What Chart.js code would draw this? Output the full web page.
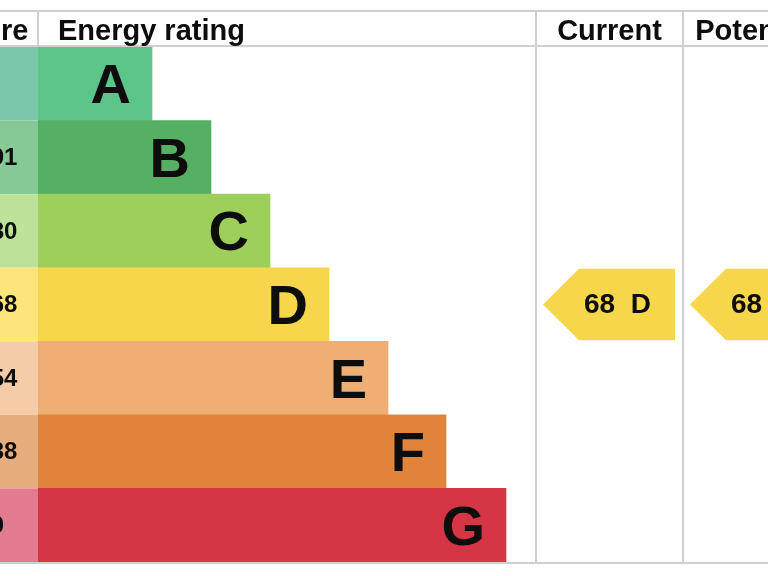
<!DOCTYPE html>
<html>
<head>
<meta charset="utf-8">
<script src="https://cdn.jsdelivr.net/npm/chart.js@4.4.1/dist/chart.umd.min.js"></script>
<style>
  html, body { margin: 0; padding: 0; background: #fff; overflow: hidden; width: 768px; height: 576px; }
  #wrap { position: absolute; left: -62px; top: 0; width: 900px; height: 576px; }
</style>
</head>
<body>
<div id="wrap"><canvas id="epc" width="900" height="576"></canvas></div>
<script>
// rating bands, top to bottom
const ratingBands = ['A', 'B', 'C', 'D', 'E', 'F', 'G'];
const scoreRanges = ['92+', '81-91', '69-80', '55-68', '39-54', '21-38', '1-20'];
const bandMinScore = [92, 81, 69, 55, 39, 21, 1];
// bar lengths (chart units)
const barLengths = [114, 173, 232, 291, 350, 408, 468];
const barColours = ['#5bc58a', '#55b064', '#9dcf5a', '#f6d64a', '#efae74', '#e0843c', '#d63545'];
const scoreColours = ['#7cc8ad', '#86c896', '#bde39a', '#fde57a', '#f6cba7', '#e8ad7c', '#e37a8f'];
const currentScore = [68];
const potentialScore = [68];

const FONT = "'Liberation Sans', Arial, Helvetica, sans-serif";
const COL_W = 147;       // width of current / potential columns
const GRID = '#cfcfcf';

const bandFor = (score) => ratingBands[bandMinScore.findIndex(m => score >= m)];

const epcTable = {
    id: 'epcTable',
    beforeDatasetsDraw(chart) {
        const { ctx, chartArea: a, scales: { y } } = chart;
        const step = (a.bottom - a.top) / ratingBands.length;
        ctx.save();
        ratingBands.forEach((band, i) => {
            const cy = y.getPixelForValue(i);
            ctx.fillStyle = scoreColours[i];
            ctx.fillRect(0, cy - step / 2, a.left, step);
            ctx.fillStyle = '#0d0d0d';
            ctx.font = 'bold 24px ' + FONT;
            ctx.textAlign = 'left';
            ctx.textBaseline = 'middle';
            ctx.fillText(scoreRanges[i], 18, cy + 1);
        });
        ctx.restore();
    },
    afterDatasetsDraw(chart) {
        const { ctx, chartArea: a, scales: { y } } = chart;
        const step = (a.bottom - a.top) / ratingBands.length;
        const meta = chart.getDatasetMeta(0);
        ctx.save();

        // band letters inside bars
        ctx.fillStyle = '#0d0d0d';
        ctx.font = 'bold 56px ' + FONT;
        ctx.textAlign = 'right';
        ctx.textBaseline = 'middle';
        meta.data.forEach((bar, i) => {
            ctx.fillText(ratingBands[i], bar.x - 21, bar.y + 4);
        });

        // grid lines
        const headTop = 11;
        const headBottom = a.top - 1;
        const c1 = a.right, c2 = a.right + COL_W, c3 = a.right + 2 * COL_W;
        ctx.strokeStyle = GRID;
        ctx.lineWidth = 2;
        ctx.beginPath();
        ctx.moveTo(0, headTop); ctx.lineTo(c3, headTop);
        ctx.moveTo(0, headBottom); ctx.lineTo(c3, headBottom);
        ctx.moveTo(0, a.bottom + 1); ctx.lineTo(c3, a.bottom + 1);
        ctx.moveTo(a.left, headTop); ctx.lineTo(a.left, headBottom);
        ctx.moveTo(c1, headTop); ctx.lineTo(c1, a.bottom + 1);
        ctx.moveTo(c2, headTop); ctx.lineTo(c2, a.bottom + 1);
        ctx.stroke();

        // headers
        ctx.fillStyle = '#0d0d0d';
        ctx.font = 'bold 29px ' + FONT;
        ctx.textBaseline = 'alphabetic';
        ctx.textAlign = 'center';
        ctx.fillText('Score', a.left / 2, 40);
        ctx.fillText('Current', (c1 + c2) / 2, 40);
        ctx.fillText('Potential', (c2 + c3) / 2, 40);
        ctx.textAlign = 'left';
        ctx.fillText('Energy rating', a.left + 20, 40);

        // current / potential arrows
        const arrow = (left, right, score) => {
            const band = bandFor(score);
            const cy = y.getPixelForValue(ratingBands.indexOf(band));
            const h = step / 2 - 1;
            const tip = left + 7, end = right - 8;
            ctx.fillStyle = barColours[ratingBands.indexOf(band)];
            ctx.beginPath();
            ctx.moveTo(tip, cy);
            ctx.lineTo(tip + 36, cy - h);
            ctx.lineTo(end, cy - h);
            ctx.lineTo(end, cy + h);
            ctx.lineTo(tip + 36, cy + h);
            ctx.closePath();
            ctx.fill();
            ctx.fillStyle = '#0d0d0d';
            ctx.font = 'bold 28px ' + FONT;
            ctx.textAlign = 'left';
            ctx.textBaseline = 'middle';
            ctx.fillText(score + '  ' + band, tip + 41, cy + 1);
        };
        arrow(c1, c2, currentScore[0]);
        arrow(c2, c3, potentialScore[0]);

        ctx.restore();
    }
};

new Chart(document.getElementById('epc'), {
    type: 'bar',
    data: {
        labels: ratingBands,
        datasets: [{
            data: barLengths,
            backgroundColor: barColours,
            borderWidth: 0,
            barPercentage: 1,
            categoryPercentage: 1
        }]
    },
    options: {
        indexAxis: 'y',
        responsive: false,
        animation: false,
        devicePixelRatio: 1,
        layout: { padding: { left: 100, right: 302, top: 47, bottom: 14 } },
        plugins: { legend: { display: false }, tooltip: { enabled: false } },
        scales: {
            x: { display: false, min: 0, max: 498 },
            y: { display: false }
        }
    },
    plugins: [epcTable]
});
</script>
</body>
</html>
